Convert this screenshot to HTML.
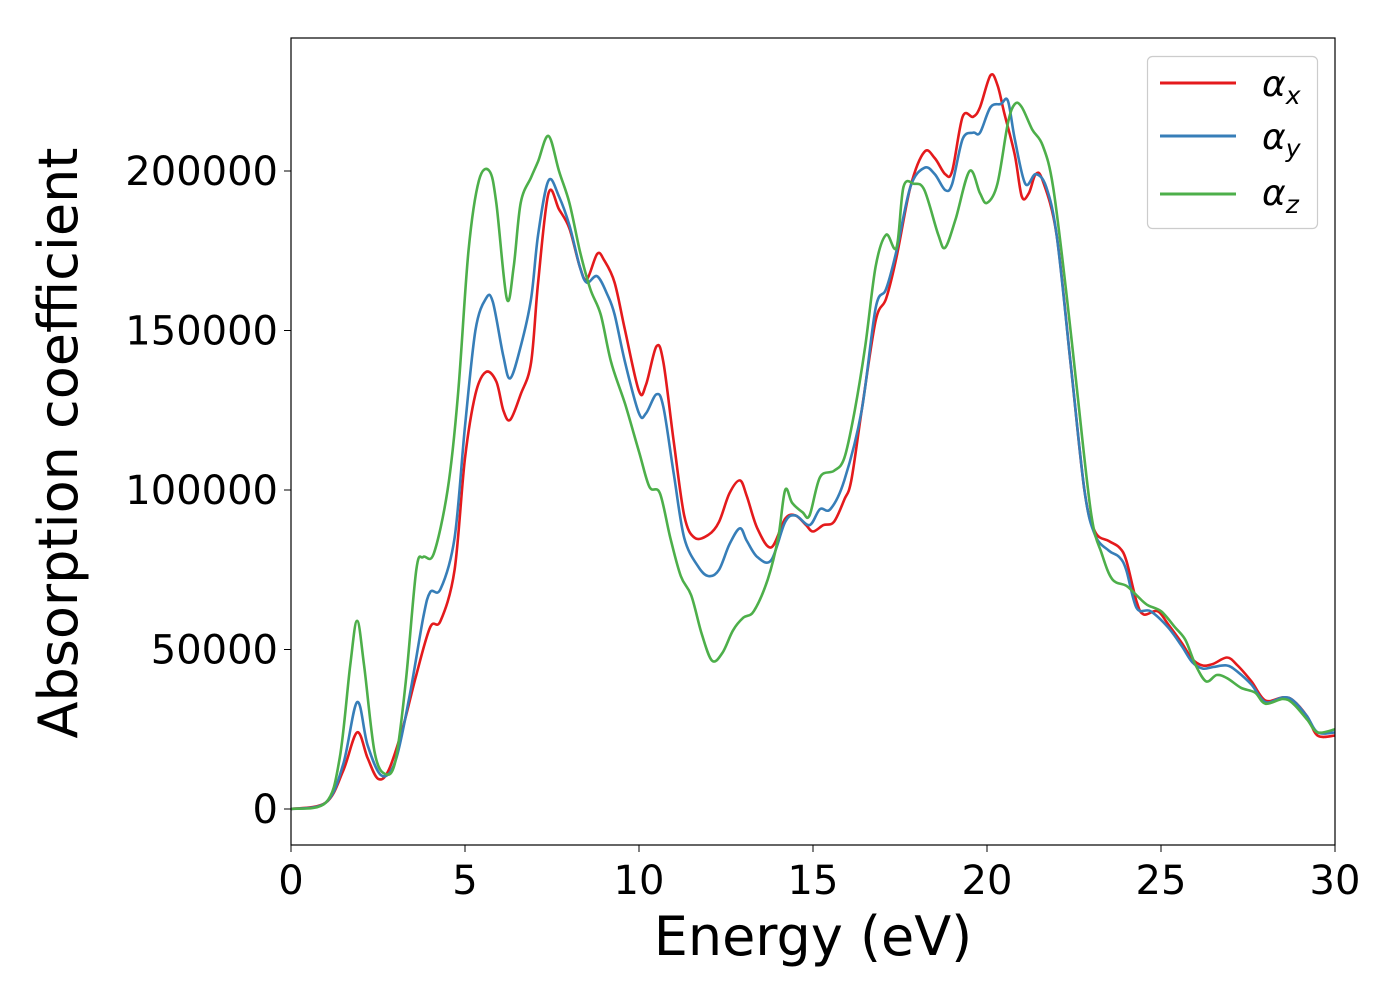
<!DOCTYPE html>
<html><head><meta charset="utf-8"><style>
html,body{margin:0;padding:0;background:#fff;}
svg text{font-family:"DejaVu Sans","Liberation Sans",sans-serif;fill:#000;}
</style></head><body>
<svg id="chart" width="1400" height="1000" viewBox="0 0 1400 1000" xmlns="http://www.w3.org/2000/svg">
<rect x="0" y="0" width="1400" height="1000" fill="#fff"/>
<g id="plot"></g>
<rect x="291" y="38" width="1044" height="807" fill="none" stroke="#000" stroke-width="1.2"/>
<g id="xticks"></g>
<g id="yticks"></g>
<text x="813" y="955" font-size="54" text-anchor="middle">Energy (eV)</text>
<text transform="translate(77,443) rotate(-90)" font-size="54" text-anchor="middle">Absorption coefficient</text>
<g>
<rect x="1147.5" y="56.5" width="170" height="172" rx="5" fill="#fff" stroke="#ccc" stroke-width="1.2"/>
<line x1="1160" y1="83" x2="1236" y2="83" stroke="#e41a1c" stroke-width="3"/>
<line x1="1160" y1="136" x2="1236" y2="136" stroke="#377eb8" stroke-width="3"/>
<line x1="1160" y1="194" x2="1236" y2="194" stroke="#4daf4a" stroke-width="3"/>
<text x="1262" y="96" font-size="36" font-style="italic">α<tspan font-size="25" dy="8">x</tspan></text>
<text x="1262" y="149" font-size="36" font-style="italic">α<tspan font-size="25" dy="8">y</tspan></text>
<text x="1262" y="205" font-size="36" font-style="italic">α<tspan font-size="25" dy="8">z</tspan></text>
</g>
</svg>
<script>
const xTicks=[0,5,10,15,20,25,30];
const yTicks=[0,50000,100000,150000,200000];
const eX=[0,1,1.5,1.9,2.2,2.5,2.8,3.2,3.6,4.0,4.3,4.7,5.0,5.3,5.6,5.9,6.1,6.3,6.6,6.9,7.1,7.4,7.7,8.0,8.3,8.5,8.8,9.0,9.3,9.6,10.0,10.2,10.5,10.7,11.0,11.3,11.6,12.0,12.3,12.6,12.9,13.1,13.4,13.8,14.2,14.5,14.8,15.0,15.3,15.6,15.9,16.1,16.4,16.8,17.1,17.4,17.8,18.2,18.5,18.8,19.0,19.3,19.6,19.8,20.1,20.3,20.5,20.8,21.0,21.2,21.4,21.6,22.0,22.4,22.8,23.1,23.5,23.8,24.0,24.3,24.5,24.9,25.2,25.6,25.9,26.2,26.5,26.9,27.2,27.6,28.0,28.5,28.8,29.2,29.5,30];
const vX=[0,2000,12000,24000,16000,9500,12000,25000,42000,57000,59000,75000,110000,130000,137000,134000,125000,122000,130000,140000,165000,193000,188000,182000,170000,166000,174000,172000,165000,150000,131000,133000,145000,140000,115000,92000,85000,86000,90000,99000,103000,98000,88000,82000,91000,92000,89000,87000,89000,90000,97000,103000,125000,153000,160000,173000,195000,206000,204000,199000,200000,217000,217000,220000,230000,227000,218000,205000,192000,193000,199000,197000,180000,140000,100000,87000,84000,82000,78000,65000,61000,62000,58000,52000,47000,45000,45500,47500,45000,40000,34000,35000,34000,29000,23000,23000];
const eY=[0,1,1.5,1.9,2.2,2.6,3.0,3.4,3.8,4.0,4.3,4.7,5.0,5.3,5.6,5.8,6.1,6.3,6.6,6.9,7.1,7.4,7.7,8.0,8.3,8.5,8.8,9.1,9.3,9.6,10.0,10.2,10.5,10.7,11.0,11.3,11.7,12.0,12.3,12.6,12.9,13.1,13.4,13.8,14.2,14.5,14.9,15.2,15.5,15.9,16.4,16.8,17.1,17.4,17.8,18.2,18.5,18.8,19.0,19.3,19.6,19.8,20.1,20.4,20.6,20.8,21.1,21.4,21.7,22.0,22.4,22.8,23.1,23.5,23.8,24.0,24.3,24.7,25.2,25.6,25.9,26.2,26.5,26.9,27.2,27.6,28.0,28.5,28.8,29.2,29.5,30];
const vY=[0,2000,14000,33500,20000,10500,15000,35000,60000,68000,69000,85000,120000,150000,160000,159000,142000,135000,145000,160000,180000,197000,192000,183000,170000,165000,167000,161000,155000,140000,124000,124000,130000,126000,105000,85000,76000,73000,75000,83000,88000,84000,79000,78000,90000,92000,89000,94000,94000,103000,125000,157000,163000,175000,195000,201000,199000,194000,196000,210000,212000,212000,220000,221000,222000,210000,196000,199000,195000,180000,140000,100000,86000,81000,79000,75000,63000,62000,57000,51000,46000,44000,44500,45000,43000,39000,33500,35000,34000,29000,24000,24000];
const eZ=[0,1,1.4,1.7,1.9,2.1,2.4,2.7,3.0,3.3,3.6,3.8,4.1,4.5,4.8,5.1,5.4,5.7,5.9,6.2,6.4,6.6,6.9,7.1,7.4,7.7,8.0,8.3,8.6,8.9,9.2,9.6,10.0,10.3,10.6,10.9,11.2,11.5,11.8,12.1,12.4,12.7,13.0,13.3,13.7,14.0,14.2,14.4,14.7,14.9,15.2,15.6,15.9,16.2,16.5,16.8,17.1,17.4,17.6,17.9,18.2,18.6,18.8,19.1,19.5,19.8,20.0,20.3,20.6,20.8,21.0,21.3,21.6,21.9,22.3,22.6,23.0,23.3,23.6,24.0,24.3,24.6,25.0,25.4,25.7,26.0,26.3,26.6,26.9,27.3,27.7,28.0,28.5,28.8,29.2,29.5,30];
const vZ=[0,2000,16000,45000,59000,45000,18000,11000,15000,40000,75000,79000,80000,100000,130000,175000,197000,200000,190000,160000,170000,190000,198000,203000,211000,200000,190000,175000,163000,155000,140000,127000,112000,101000,99000,85000,73000,67000,55000,46500,49000,56000,60000,62000,72000,85000,100000,96000,93000,92000,104000,106000,110000,125000,145000,170000,180000,176000,195000,196000,194000,180000,176000,185000,200000,193000,190000,196000,215000,221000,220000,213000,208000,195000,160000,130000,92000,80000,72000,70000,67000,64000,62000,57000,53000,45000,40000,42000,41000,38000,36500,33000,34500,33000,28000,24000,25000];

const X0=291,X1=1335,Y0=809,YS=638/200000;
function sx(e){return X0+(e-0)*(X1-X0)/30;}
function sy(v){return Y0-v*YS;}
const NS="http://www.w3.org/2000/svg";
function pathFrom(es,vs){
  const p=es.map((e,i)=>[sx(e),sy(vs[i])]);
  let d="M"+p[0][0].toFixed(1)+","+p[0][1].toFixed(1);
  for(let i=0;i<p.length-1;i++){
    const a=p[Math.max(0,i-1)],b=p[i],c=p[i+1],n=p[Math.min(p.length-1,i+2)];
    const c1=[b[0]+(c[0]-a[0])/6,b[1]+(c[1]-a[1])/6];
    const c2=[c[0]-(n[0]-b[0])/6,c[1]-(n[1]-b[1])/6];
    d+="C"+c1[0].toFixed(1)+","+c1[1].toFixed(1)+" "+c2[0].toFixed(1)+","+c2[1].toFixed(1)+" "+c[0].toFixed(1)+","+c[1].toFixed(1);
  }
  return d;
}
const plot=document.getElementById('plot');
[[eX,vX,'#e41a1c','series-alpha-x'],[eY,vY,'#377eb8','series-alpha-y'],[eZ,vZ,'#4daf4a','series-alpha-z']].forEach(s=>{
  const el=document.createElementNS(NS,'path');
  el.setAttribute('d',pathFrom(s[0],s[1]));
  el.setAttribute('fill','none');el.setAttribute('stroke',s[2]);el.setAttribute('stroke-width','2.6');
  
  
  plot.appendChild(el);
});
const xg=document.getElementById('xticks');
xTicks.forEach(t=>{
  const l=document.createElementNS(NS,'line');
  l.setAttribute('x1',sx(t));l.setAttribute('x2',sx(t));l.setAttribute('y1',845);l.setAttribute('y2',852);l.setAttribute('stroke','#000');
  
  
  xg.appendChild(l);
  const tx=document.createElementNS(NS,'text');
  tx.setAttribute('x',sx(t));tx.setAttribute('y',894);tx.setAttribute('font-size','40');tx.setAttribute('text-anchor','middle');
  tx.textContent=t;
  
  
  xg.appendChild(tx);
});
const yg=document.getElementById('yticks');
yTicks.forEach(t=>{
  const l=document.createElementNS(NS,'line');
  l.setAttribute('x1',284);l.setAttribute('x2',291);l.setAttribute('y1',sy(t));l.setAttribute('y2',sy(t));l.setAttribute('stroke','#000');
  
  
  yg.appendChild(l);
  const tx=document.createElementNS(NS,'text');
  tx.setAttribute('x',278);tx.setAttribute('y',sy(t)+14);tx.setAttribute('font-size','40');tx.setAttribute('text-anchor','end');
  tx.textContent=t;
  
  
  yg.appendChild(tx);
});
</script>
</body></html>
